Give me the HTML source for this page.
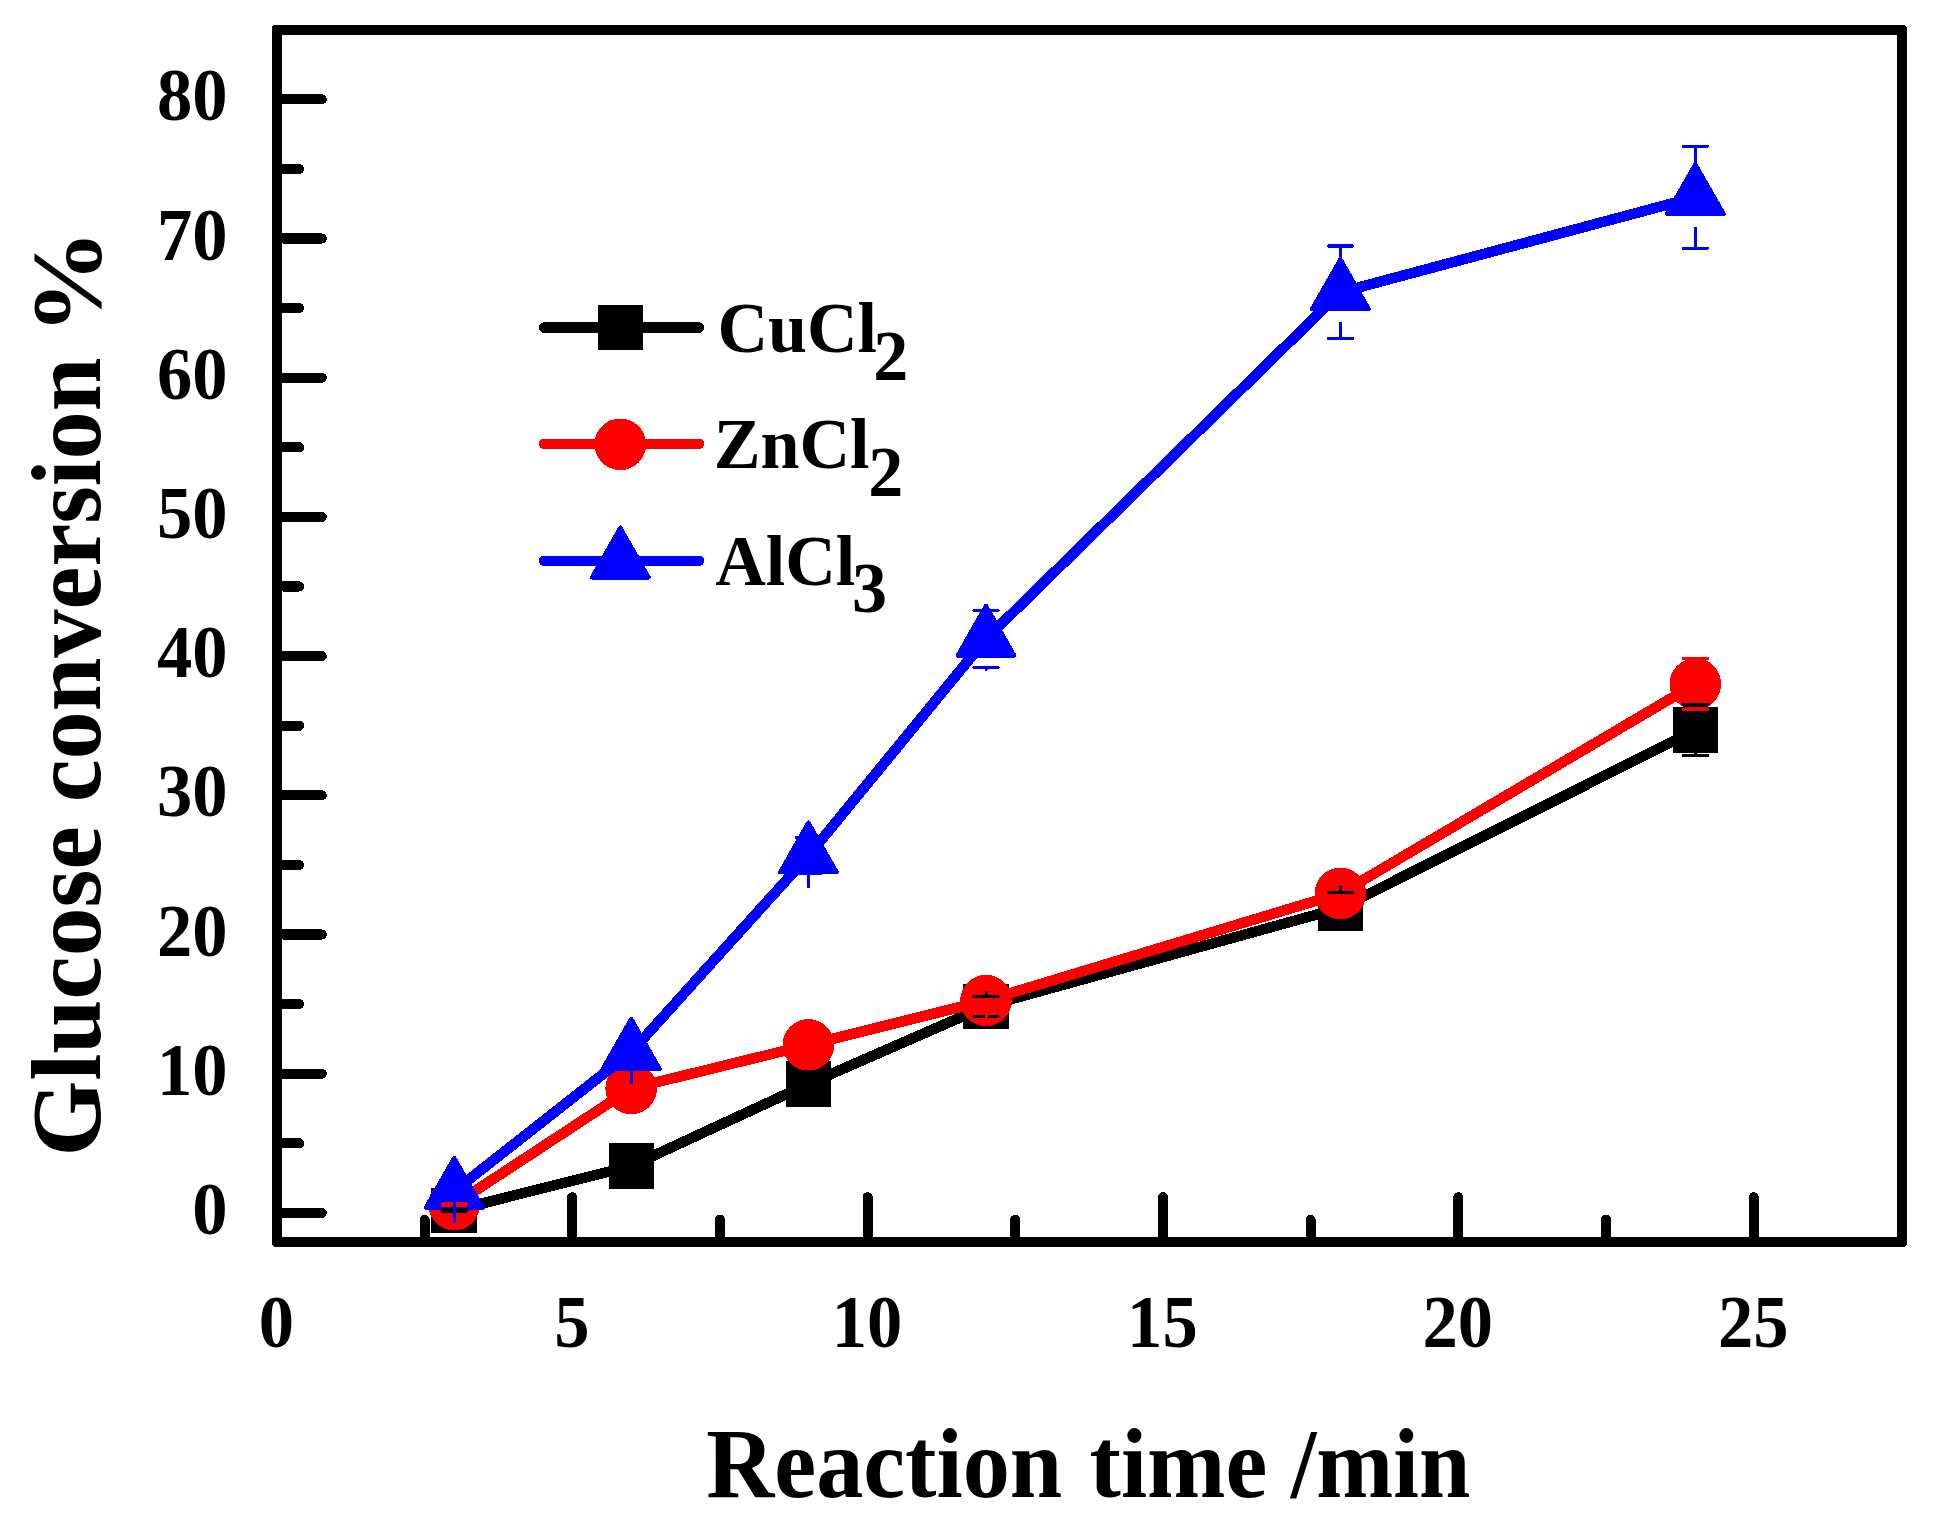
<!DOCTYPE html><html><head><meta charset="utf-8"><style>html,body{margin:0;padding:0;background:#fff}svg{display:block}text{font-family:"Liberation Serif","Times New Roman",serif;font-weight:bold}</style></head><body>
<svg width="1934" height="1525" viewBox="0 0 1934 1525" shape-rendering="crispEdges">
<rect width="1934" height="1525" fill="#fff"/>
<polyline points="454.2,1210.5 631.2,1166.0 808.4,1083.9 986.0,1006.2 1340.4,908.0 1695.3,730.1" fill="none" stroke="#000" stroke-width="10.5" stroke-linejoin="round" stroke-linecap="round"/>
<rect x="431.4" y="1187.8" width="45.5" height="45.5" fill="#000"/>
<rect x="608.5" y="1143.2" width="45.5" height="45.5" fill="#000"/>
<rect x="785.6" y="1061.2" width="45.5" height="45.5" fill="#000"/>
<rect x="963.2" y="983.5" width="45.5" height="45.5" fill="#000"/>
<rect x="1317.7" y="885.2" width="45.5" height="45.5" fill="#000"/>
<rect x="1672.5" y="707.4" width="45.5" height="45.5" fill="#000"/>
<polyline points="454.2,1204.6 631.2,1088.5 808.4,1044.9 986.0,1000.5 1340.4,893.4 1695.3,684.0" fill="none" stroke="#f00" stroke-width="10.5" stroke-linejoin="round" stroke-linecap="round"/>
<circle cx="454.2" cy="1204.6" r="25.8" fill="#f00"/>
<circle cx="631.2" cy="1088.5" r="25.8" fill="#f00"/>
<circle cx="808.4" cy="1044.9" r="25.8" fill="#f00"/>
<circle cx="986.0" cy="1000.5" r="25.8" fill="#f00"/>
<circle cx="1340.4" cy="893.4" r="25.8" fill="#f00"/>
<circle cx="1695.3" cy="684.0" r="25.8" fill="#f00"/>
<polyline points="454.2,1191.0 631.2,1052.0 808.4,855.7 986.0,638.9 1340.4,292.3 1695.3,197.2" fill="none" stroke="#00f" stroke-width="10.5" stroke-linejoin="round" stroke-linecap="round"/>
<polygon points="454.2,1157.7 482.7,1207.7 425.7,1207.7" fill="#00f" stroke="#00f" stroke-width="4" stroke-linejoin="round"/>
<polygon points="631.2,1018.7 659.7,1068.7 602.7,1068.7" fill="#00f" stroke="#00f" stroke-width="4" stroke-linejoin="round"/>
<polygon points="808.4,822.4 836.9,872.4 779.9,872.4" fill="#00f" stroke="#00f" stroke-width="4" stroke-linejoin="round"/>
<polygon points="986.0,605.6 1014.5,655.6 957.5,655.6" fill="#00f" stroke="#00f" stroke-width="4" stroke-linejoin="round"/>
<polygon points="1340.4,259.0 1368.9,309.0 1311.9,309.0" fill="#00f" stroke="#00f" stroke-width="4" stroke-linejoin="round"/>
<polygon points="1695.3,163.9 1723.8,213.9 1666.8,213.9" fill="#00f" stroke="#00f" stroke-width="4" stroke-linejoin="round"/>
<g>
<line x1="454.2" y1="1210.0" x2="454.2" y2="1190.0" stroke="#000" stroke-width="3" stroke-linecap="round"/><line x1="442.2" y1="1210.0" x2="466.2" y2="1210.0" stroke="#000" stroke-width="3.4" stroke-linecap="round"/><line x1="454.2" y1="1211.0" x2="454.2" y2="1231.0" stroke="#000" stroke-width="3" stroke-linecap="round"/><line x1="442.2" y1="1211.0" x2="466.2" y2="1211.0" stroke="#000" stroke-width="3.4" stroke-linecap="round"/>
<line x1="631.2" y1="1156.0" x2="631.2" y2="1145.5" stroke="#000" stroke-width="3" stroke-linecap="round"/><line x1="619.2" y1="1156.0" x2="643.2" y2="1156.0" stroke="#000" stroke-width="3.4" stroke-linecap="round"/><line x1="631.2" y1="1176.0" x2="631.2" y2="1186.5" stroke="#000" stroke-width="3" stroke-linecap="round"/><line x1="619.2" y1="1176.0" x2="643.2" y2="1176.0" stroke="#000" stroke-width="3.4" stroke-linecap="round"/>
<line x1="808.4" y1="1073.9" x2="808.4" y2="1063.4" stroke="#000" stroke-width="3" stroke-linecap="round"/><line x1="796.4" y1="1073.9" x2="820.4" y2="1073.9" stroke="#000" stroke-width="3.4" stroke-linecap="round"/><line x1="808.4" y1="1093.9" x2="808.4" y2="1104.4" stroke="#000" stroke-width="3" stroke-linecap="round"/><line x1="796.4" y1="1093.9" x2="820.4" y2="1093.9" stroke="#000" stroke-width="3.4" stroke-linecap="round"/>
<line x1="986.0" y1="996.2" x2="986.0" y2="985.7" stroke="#000" stroke-width="3" stroke-linecap="round"/><line x1="974.0" y1="996.2" x2="998.0" y2="996.2" stroke="#000" stroke-width="3.4" stroke-linecap="round"/><line x1="986.0" y1="1016.2" x2="986.0" y2="1026.7" stroke="#000" stroke-width="3" stroke-linecap="round"/><line x1="974.0" y1="1016.2" x2="998.0" y2="1016.2" stroke="#000" stroke-width="3.4" stroke-linecap="round"/>
<line x1="1340.4" y1="892.5" x2="1340.4" y2="887.5" stroke="#000" stroke-width="3" stroke-linecap="round"/><line x1="1328.4" y1="892.5" x2="1352.4" y2="892.5" stroke="#000" stroke-width="3.4" stroke-linecap="round"/><line x1="1340.4" y1="923.5" x2="1340.4" y2="928.5" stroke="#000" stroke-width="3" stroke-linecap="round"/><line x1="1328.4" y1="923.5" x2="1352.4" y2="923.5" stroke="#000" stroke-width="3.4" stroke-linecap="round"/>
<line x1="1695.3" y1="704.8" x2="1695.3" y2="709.6" stroke="#000" stroke-width="3" stroke-linecap="round"/><line x1="1683.3" y1="704.8" x2="1707.3" y2="704.8" stroke="#000" stroke-width="3.4" stroke-linecap="round"/><line x1="1695.3" y1="755.4" x2="1695.3" y2="750.6" stroke="#000" stroke-width="3" stroke-linecap="round"/><line x1="1683.3" y1="755.4" x2="1707.3" y2="755.4" stroke="#000" stroke-width="3.4" stroke-linecap="round"/>
<line x1="454.2" y1="1204.0" x2="454.2" y2="1180.3" stroke="#f00" stroke-width="3" stroke-linecap="round"/><line x1="442.2" y1="1204.0" x2="466.2" y2="1204.0" stroke="#f00" stroke-width="3.4" stroke-linecap="round"/><line x1="454.2" y1="1205.2" x2="454.2" y2="1228.9" stroke="#f00" stroke-width="3" stroke-linecap="round"/><line x1="442.2" y1="1205.2" x2="466.2" y2="1205.2" stroke="#f00" stroke-width="3.4" stroke-linecap="round"/>
<line x1="631.2" y1="1078.5" x2="631.2" y2="1064.2" stroke="#f00" stroke-width="3" stroke-linecap="round"/><line x1="619.2" y1="1078.5" x2="643.2" y2="1078.5" stroke="#f00" stroke-width="3.4" stroke-linecap="round"/><line x1="631.2" y1="1098.5" x2="631.2" y2="1112.8" stroke="#f00" stroke-width="3" stroke-linecap="round"/><line x1="619.2" y1="1098.5" x2="643.2" y2="1098.5" stroke="#f00" stroke-width="3.4" stroke-linecap="round"/>
<line x1="808.4" y1="1034.9" x2="808.4" y2="1020.6" stroke="#f00" stroke-width="3" stroke-linecap="round"/><line x1="796.4" y1="1034.9" x2="820.4" y2="1034.9" stroke="#f00" stroke-width="3.4" stroke-linecap="round"/><line x1="808.4" y1="1054.9" x2="808.4" y2="1069.2" stroke="#f00" stroke-width="3" stroke-linecap="round"/><line x1="796.4" y1="1054.9" x2="820.4" y2="1054.9" stroke="#f00" stroke-width="3.4" stroke-linecap="round"/>
<line x1="986.0" y1="989.5" x2="986.0" y2="976.2" stroke="#f00" stroke-width="3" stroke-linecap="round"/><line x1="974.0" y1="989.5" x2="998.0" y2="989.5" stroke="#f00" stroke-width="3.4" stroke-linecap="round"/><line x1="986.0" y1="1011.5" x2="986.0" y2="1024.8" stroke="#f00" stroke-width="3" stroke-linecap="round"/><line x1="974.0" y1="1011.5" x2="998.0" y2="1011.5" stroke="#f00" stroke-width="3.4" stroke-linecap="round"/>
<line x1="1340.4" y1="878.4" x2="1340.4" y2="869.1" stroke="#f00" stroke-width="3" stroke-linecap="round"/><line x1="1328.4" y1="878.4" x2="1352.4" y2="878.4" stroke="#f00" stroke-width="3.4" stroke-linecap="round"/><line x1="1340.4" y1="908.4" x2="1340.4" y2="917.7" stroke="#f00" stroke-width="3" stroke-linecap="round"/><line x1="1328.4" y1="908.4" x2="1352.4" y2="908.4" stroke="#f00" stroke-width="3.4" stroke-linecap="round"/>
<line x1="1695.3" y1="658.5" x2="1695.3" y2="659.7" stroke="#f00" stroke-width="3" stroke-linecap="round"/><line x1="1683.3" y1="658.5" x2="1707.3" y2="658.5" stroke="#f00" stroke-width="3.4" stroke-linecap="round"/><line x1="1695.3" y1="709.5" x2="1695.3" y2="708.3" stroke="#f00" stroke-width="3" stroke-linecap="round"/><line x1="1683.3" y1="709.5" x2="1707.3" y2="709.5" stroke="#f00" stroke-width="3.4" stroke-linecap="round"/>
<line x1="454.2" y1="1191.0" x2="454.2" y2="1160.0" stroke="#00f" stroke-width="3" stroke-linecap="round"/><line x1="442.2" y1="1191.0" x2="466.2" y2="1191.0" stroke="#00f" stroke-width="3.4" stroke-linecap="round"/><line x1="454.2" y1="1191.0" x2="454.2" y2="1222.0" stroke="#00f" stroke-width="3" stroke-linecap="round"/><line x1="442.2" y1="1191.0" x2="466.2" y2="1191.0" stroke="#00f" stroke-width="3.4" stroke-linecap="round"/>
<line x1="631.2" y1="1044.0" x2="631.2" y2="1021.0" stroke="#00f" stroke-width="3" stroke-linecap="round"/><line x1="619.2" y1="1044.0" x2="643.2" y2="1044.0" stroke="#00f" stroke-width="3.4" stroke-linecap="round"/><line x1="631.2" y1="1060.0" x2="631.2" y2="1083.0" stroke="#00f" stroke-width="3" stroke-linecap="round"/><line x1="619.2" y1="1060.0" x2="643.2" y2="1060.0" stroke="#00f" stroke-width="3.4" stroke-linecap="round"/>
<line x1="808.4" y1="837.7" x2="808.4" y2="824.7" stroke="#00f" stroke-width="3" stroke-linecap="round"/><line x1="796.4" y1="837.7" x2="820.4" y2="837.7" stroke="#00f" stroke-width="3.4" stroke-linecap="round"/><line x1="808.4" y1="873.7" x2="808.4" y2="886.7" stroke="#00f" stroke-width="3" stroke-linecap="round"/><line x1="796.4" y1="873.7" x2="820.4" y2="873.7" stroke="#00f" stroke-width="3.4" stroke-linecap="round"/>
<line x1="986.0" y1="610.5" x2="986.0" y2="607.9" stroke="#00f" stroke-width="3" stroke-linecap="round"/><line x1="974.0" y1="610.5" x2="998.0" y2="610.5" stroke="#00f" stroke-width="3.4" stroke-linecap="round"/><line x1="986.0" y1="667.3" x2="986.0" y2="669.9" stroke="#00f" stroke-width="3" stroke-linecap="round"/><line x1="974.0" y1="667.3" x2="998.0" y2="667.3" stroke="#00f" stroke-width="3.4" stroke-linecap="round"/>
<line x1="1340.4" y1="246.1" x2="1340.4" y2="261.3" stroke="#00f" stroke-width="3" stroke-linecap="round"/><line x1="1328.4" y1="246.1" x2="1352.4" y2="246.1" stroke="#00f" stroke-width="3.4" stroke-linecap="round"/><line x1="1340.4" y1="338.5" x2="1340.4" y2="323.3" stroke="#00f" stroke-width="3" stroke-linecap="round"/><line x1="1328.4" y1="338.5" x2="1352.4" y2="338.5" stroke="#00f" stroke-width="3.4" stroke-linecap="round"/>
<line x1="1695.3" y1="146.2" x2="1695.3" y2="166.2" stroke="#00f" stroke-width="3" stroke-linecap="round"/><line x1="1683.3" y1="146.2" x2="1707.3" y2="146.2" stroke="#00f" stroke-width="3.4" stroke-linecap="round"/><line x1="1695.3" y1="248.2" x2="1695.3" y2="228.2" stroke="#00f" stroke-width="3" stroke-linecap="round"/><line x1="1683.3" y1="248.2" x2="1707.3" y2="248.2" stroke="#00f" stroke-width="3.4" stroke-linecap="round"/>
</g>
<rect x="276.9" y="30" width="1625.1" height="1212" fill="none" stroke="#000" stroke-width="10"/>
<polygon points="271.4,24.5 274.5,24.5 271.4,27.6" fill="#fff"/>
<polygon points="1907.5,24.5 1904.4,24.5 1907.5,27.6" fill="#fff"/>
<polygon points="1907.5,1247.5 1904.4,1247.5 1907.5,1244.4" fill="#fff"/>
<polygon points="271.4,1247.5 274.5,1247.5 271.4,1244.4" fill="#fff"/>
<line x1="283" y1="1212.9" x2="321.7" y2="1212.9" stroke="#000" stroke-width="10.2" stroke-linecap="round"/>
<line x1="283" y1="1143.3" x2="299" y2="1143.3" stroke="#000" stroke-width="10.2" stroke-linecap="round"/>
<line x1="283" y1="1073.7" x2="321.7" y2="1073.7" stroke="#000" stroke-width="10.2" stroke-linecap="round"/>
<line x1="283" y1="1004.1" x2="299" y2="1004.1" stroke="#000" stroke-width="10.2" stroke-linecap="round"/>
<line x1="283" y1="934.5" x2="321.7" y2="934.5" stroke="#000" stroke-width="10.2" stroke-linecap="round"/>
<line x1="283" y1="864.9" x2="299" y2="864.9" stroke="#000" stroke-width="10.2" stroke-linecap="round"/>
<line x1="283" y1="795.3" x2="321.7" y2="795.3" stroke="#000" stroke-width="10.2" stroke-linecap="round"/>
<line x1="283" y1="725.7" x2="299" y2="725.7" stroke="#000" stroke-width="10.2" stroke-linecap="round"/>
<line x1="283" y1="656.1" x2="321.7" y2="656.1" stroke="#000" stroke-width="10.2" stroke-linecap="round"/>
<line x1="283" y1="586.5" x2="299" y2="586.5" stroke="#000" stroke-width="10.2" stroke-linecap="round"/>
<line x1="283" y1="516.9" x2="321.7" y2="516.9" stroke="#000" stroke-width="10.2" stroke-linecap="round"/>
<line x1="283" y1="447.3" x2="299" y2="447.3" stroke="#000" stroke-width="10.2" stroke-linecap="round"/>
<line x1="283" y1="377.7" x2="321.7" y2="377.7" stroke="#000" stroke-width="10.2" stroke-linecap="round"/>
<line x1="283" y1="308.1" x2="299" y2="308.1" stroke="#000" stroke-width="10.2" stroke-linecap="round"/>
<line x1="283" y1="238.5" x2="321.7" y2="238.5" stroke="#000" stroke-width="10.2" stroke-linecap="round"/>
<line x1="283" y1="168.9" x2="299" y2="168.9" stroke="#000" stroke-width="10.2" stroke-linecap="round"/>
<line x1="283" y1="99.3" x2="321.7" y2="99.3" stroke="#000" stroke-width="10.2" stroke-linecap="round"/>
<line x1="424.6" y1="1236" x2="424.6" y2="1219.7" stroke="#000" stroke-width="10.2" stroke-linecap="round"/>
<line x1="572.2" y1="1236" x2="572.2" y2="1197.3" stroke="#000" stroke-width="10.2" stroke-linecap="round"/>
<line x1="719.9" y1="1236" x2="719.9" y2="1219.7" stroke="#000" stroke-width="10.2" stroke-linecap="round"/>
<line x1="867.6" y1="1236" x2="867.6" y2="1197.3" stroke="#000" stroke-width="10.2" stroke-linecap="round"/>
<line x1="1015.3" y1="1236" x2="1015.3" y2="1219.7" stroke="#000" stroke-width="10.2" stroke-linecap="round"/>
<line x1="1162.9" y1="1236" x2="1162.9" y2="1197.3" stroke="#000" stroke-width="10.2" stroke-linecap="round"/>
<line x1="1310.6" y1="1236" x2="1310.6" y2="1219.7" stroke="#000" stroke-width="10.2" stroke-linecap="round"/>
<line x1="1458.3" y1="1236" x2="1458.3" y2="1197.3" stroke="#000" stroke-width="10.2" stroke-linecap="round"/>
<line x1="1606.0" y1="1236" x2="1606.0" y2="1219.7" stroke="#000" stroke-width="10.2" stroke-linecap="round"/>
<line x1="1753.7" y1="1236" x2="1753.7" y2="1197.3" stroke="#000" stroke-width="10.2" stroke-linecap="round"/>
<text transform="translate(227.5,1233.9) scale(0.98,1.03)" font-size="72" text-anchor="end">0</text>
<text transform="translate(227.5,1094.7) scale(0.98,1.03)" font-size="72" text-anchor="end">10</text>
<text transform="translate(227.5,955.5) scale(0.98,1.03)" font-size="72" text-anchor="end">20</text>
<text transform="translate(227.5,816.3) scale(0.98,1.03)" font-size="72" text-anchor="end">30</text>
<text transform="translate(227.5,677.1) scale(0.98,1.03)" font-size="72" text-anchor="end">40</text>
<text transform="translate(227.5,537.9) scale(0.98,1.03)" font-size="72" text-anchor="end">50</text>
<text transform="translate(227.5,398.7) scale(0.98,1.03)" font-size="72" text-anchor="end">60</text>
<text transform="translate(227.5,259.5) scale(0.98,1.03)" font-size="72" text-anchor="end">70</text>
<text transform="translate(227.5,120.3) scale(0.98,1.03)" font-size="72" text-anchor="end">80</text>
<text transform="translate(276.4,1347.2) scale(0.98,1.03)" font-size="72" text-anchor="middle">0</text>
<text transform="translate(571.8,1347.2) scale(0.98,1.03)" font-size="72" text-anchor="middle">5</text>
<text transform="translate(867.1,1347.2) scale(0.98,1.03)" font-size="72" text-anchor="middle">10</text>
<text transform="translate(1162.4,1347.2) scale(0.98,1.03)" font-size="72" text-anchor="middle">15</text>
<text transform="translate(1457.8,1347.2) scale(0.98,1.03)" font-size="72" text-anchor="middle">20</text>
<text transform="translate(1753.2,1347.2) scale(0.98,1.03)" font-size="72" text-anchor="middle">25</text>
<text transform="translate(706.3,1496.9) scale(0.952,1)" font-size="99">Reaction</text>
<text transform="translate(1089.6,1496.9) scale(0.951,1)" font-size="99">time</text>
<text transform="translate(1290.7,1496.9) scale(0.9325,1)" font-size="99">/min</text>
<text transform="translate(100.2,1156.56) rotate(-90) scale(0.975,1)" font-size="100">Glucose</text>
<text transform="translate(100.2,802.3) rotate(-90) scale(0.9645,1)" font-size="100">conversion</text>
<text transform="translate(100.2,334.7) rotate(-90) scale(1.051,1)" font-size="100">%</text>
<line x1="544" y1="327.6" x2="699" y2="327.6" stroke="#000" stroke-width="10.5" stroke-linecap="round"/>
<line x1="544" y1="443.8" x2="699" y2="443.8" stroke="#f00" stroke-width="10.5" stroke-linecap="round"/>
<line x1="544" y1="560.8" x2="699" y2="560.8" stroke="#00f" stroke-width="10.5" stroke-linecap="round"/>
<rect x="597.5" y="304.9" width="45.5" height="45.5" fill="#000"/>
<circle cx="620.3" cy="444.3" r="25.8" fill="#f00"/>
<polygon points="620.3,527.5 648.8,577.5 591.8,577.5" fill="#00f" stroke="#00f" stroke-width="4" stroke-linejoin="round"/>
<text transform="translate(717.4,352.3) scale(0.973,1)" font-size="72">CuCl</text>
<text transform="translate(873.2,379.8) scale(0.973,1)" font-size="72">2</text>
<text transform="translate(713.8,468.0) scale(0.973,1)" font-size="72">ZnCl</text>
<text transform="translate(868.3,495.5) scale(0.973,1)" font-size="72">2</text>
<text transform="translate(715.2,584.8) scale(0.973,1)" font-size="72">AlCl</text>
<text transform="translate(852.1,612.3) scale(0.973,1)" font-size="72">3</text>
</svg></body></html>
